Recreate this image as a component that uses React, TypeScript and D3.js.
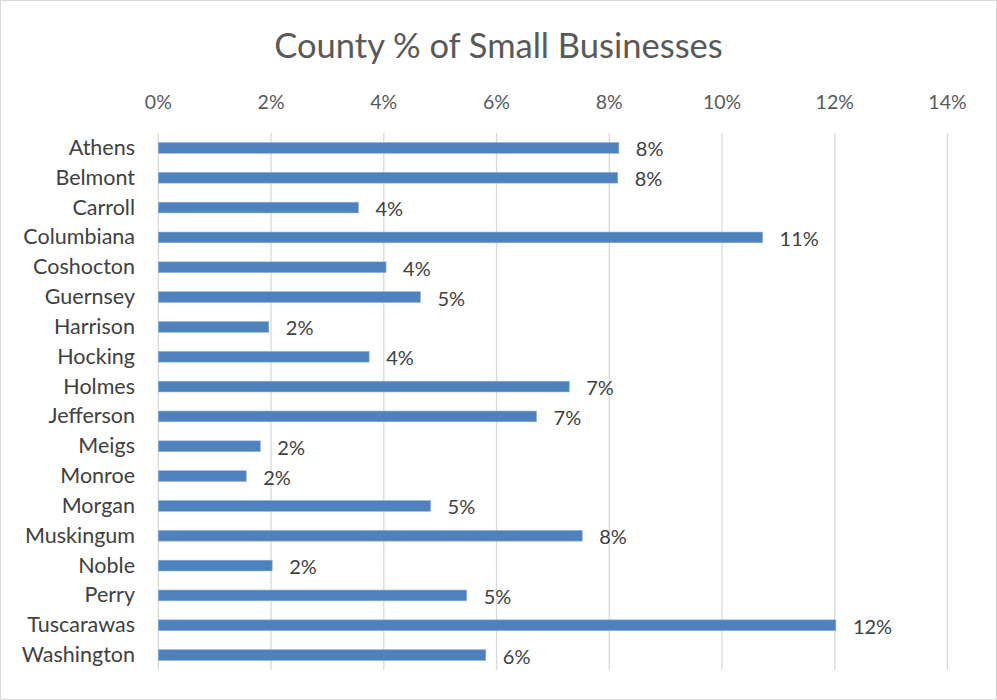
import React from "react";
import * as d3 from "d3";

const counties = ["Athens","Belmont","Carroll","Columbiana","Coshocton","Guernsey","Harrison","Hocking","Holmes","Jefferson","Meigs","Monroe","Morgan","Muskingum","Noble","Perry","Tuscarawas","Washington"];
const shares = [8.17,8.15,3.55,10.72,4.04,4.65,1.96,3.74,7.29,6.71,1.81,1.56,4.83,7.52,2.02,5.47,12.02,5.81];
const ticks = [0,2,4,6,8,10,12,14];
const title = "County % of Small Businesses";

const W = 997, H = 700;
const FONT = "Lato, 'Open Sans', sans-serif";

export default function App() {
  const x = d3.scaleLinear().domain([0, 14]).range([158.3, 947.5]);
  const y = d3.scaleBand().domain(counties).range([133, 670]).paddingInner(0.64).paddingOuter(0.32);
  return (
    <svg width={W} height={H} style={{ position: "absolute", left: 0, top: 0 }}>
      <rect x={0.5} y={0.5} width={W - 1} height={H - 1} fill="#fff" stroke="#d9d9d9" />
      <text x={W / 2} y={58} textAnchor="middle" fontFamily={FONT} fontSize={34.5} fill="#595959">{title}</text>
      {ticks.map(t => (
        <g key={t}>
          <line x1={x(t)} x2={x(t)} y1={133} y2={670} stroke="#d9d9d9" strokeWidth={1.3} />
          <text x={x(t)} y={109} textAnchor="middle" fontFamily={FONT} fontSize={19.5} fill="#595959">{t}%</text>
        </g>
      ))}
      {counties.map((c, i) => {
        const yc = (y(c) as number) + y.bandwidth() / 2;
        return (
          <g key={c}>
            <rect x={x(0)} y={y(c)} width={x(shares[i]) - x(0)} height={y.bandwidth()} fill="#4f81bd" stroke="#8fb0d9" strokeWidth={0.6} />
            <text x={135} y={yc + 7} textAnchor="end" fontFamily={FONT} fontSize={21.5} fill="#404040">{c}</text>
            <text x={x(shares[i]) + 17} y={yc + 8.5} fontFamily={FONT} fontSize={20} fill="#404040">{Math.round(shares[i])}%</text>
          </g>
        );
      })}
    </svg>
  );
}
